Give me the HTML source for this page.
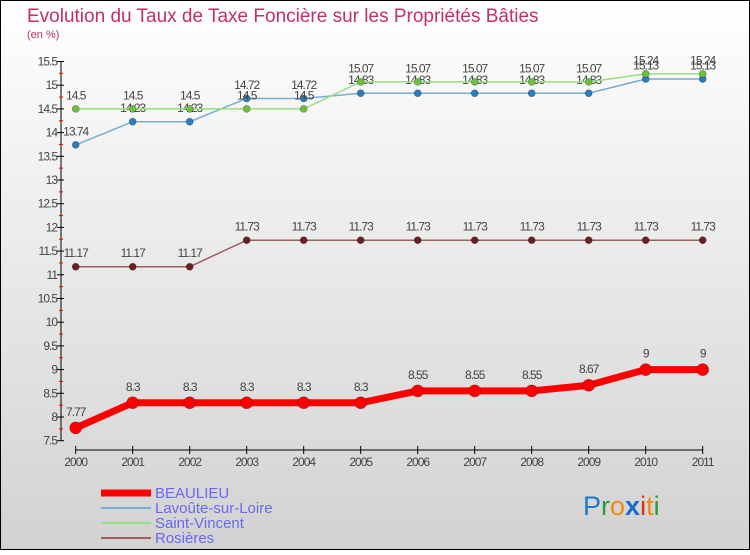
<!DOCTYPE html>
<html><head><meta charset="utf-8"><style>
body{margin:0}
svg text{font-family:"Liberation Sans",sans-serif}
</style></head><body>
<svg width="750" height="550" xmlns="http://www.w3.org/2000/svg">
<defs><linearGradient id="bg" x1="0" y1="0" x2="0" y2="1"><stop offset="0" stop-color="#ffffff"/><stop offset="1" stop-color="#d2d2d2"/></linearGradient></defs>
<rect x="0.5" y="0.5" width="749" height="549" fill="url(#bg)" stroke="#000"/>
<text x="27" y="22" font-size="19" fill="#c0306a">Evolution du Taux de Taxe Foncière sur les Propriétés Bâties</text>
<text x="27" y="38" font-size="11" fill="#c0306a">(en %)</text>
<g id="axes"></g>
<g id="series"></g>
<g id="legend">
<line x1="101" y1="493" x2="151" y2="493" stroke="#f00" stroke-width="7"/>
<text x="155" y="498" font-size="15" fill="#6868f0">BEAULIEU</text>
<line x1="101" y1="508" x2="151" y2="508" stroke="#79aed0" stroke-width="2"/>
<text x="155" y="513" font-size="15" fill="#6868f0">Lavoûte-sur-Loire</text>
<line x1="101" y1="523" x2="151" y2="523" stroke="#98dd80" stroke-width="2"/>
<text x="155" y="528" font-size="15" fill="#6868f0">Saint-Vincent</text>
<line x1="101" y1="538" x2="151" y2="538" stroke="#9a6060" stroke-width="2"/>
<text x="155" y="543" font-size="15" fill="#6868f0">Rosières</text>
</g>
<text x="583" y="515" font-size="27"><tspan fill="#1a7ad0">P</tspan><tspan fill="#2a9a3a">r</tspan><tspan fill="#f08a10">o</tspan><tspan fill="#1a6ad0" font-weight="bold">x</tspan><tspan fill="#e03010">i</tspan><tspan fill="#f08a10">t</tspan><tspan fill="#2a9a3a">i</tspan></text>
</svg>
<script>
const years=[2000,2001,2002,2003,2004,2005,2006,2007,2008,2009,2010,2011];
const yTicks=[7.5,8,8.5,9,9.5,10,10.5,11,11.5,12,12.5,13,13.5,14,14.5,15,15.5];
const beaulieu=[7.77,8.3,8.3,8.3,8.3,8.3,8.55,8.55,8.55,8.67,9,9];
const lavoute=[13.74,14.23,14.23,14.72,14.72,14.83,14.83,14.83,14.83,14.83,15.13,15.13];
const saintVincent=[14.5,14.5,14.5,14.5,14.5,15.07,15.07,15.07,15.07,15.07,15.24,15.24];
const rosieres=[11.17,11.17,11.17,11.73,11.73,11.73,11.73,11.73,11.73,11.73,11.73,11.73];
const NS="http://www.w3.org/2000/svg";
const xs=i=>75.7+i*57;
const ys=v=>440.7-(v-7.5)*47.4;
function mk(t,a,p){const e=document.createElementNS(NS,t);for(const k in a)e.setAttribute(k,a[k]);p.appendChild(e);return e;}
const ax=document.getElementById('axes');
let l=mk('line',{x1:61,y1:ys(15.5),x2:61,y2:ys(7.5),stroke:'#000'},ax);


l=mk('line',{x1:xs(0),y1:450,x2:xs(11),y2:450,stroke:'#000'},ax);


yTicks.forEach((v,i)=>{
 mk('line',{x1:57,y1:ys(v),x2:64,y2:ys(v),stroke:'#000'},ax);
 if(i<yTicks.length-1) mk('line',{x1:59,y1:ys(v+0.25),x2:63,y2:ys(v+0.25),stroke:'#e00'},ax);
 const t=mk('text',{x:57,y:ys(v)+4,'font-size':12,fill:'#444','text-anchor':'end','letter-spacing':'-1'},ax);
 t.textContent=v;
 
 
});
years.forEach((y,i)=>{
 mk('line',{x1:xs(i),y1:446,x2:xs(i),y2:454,stroke:'#000'},ax);
 const t=mk('text',{x:xs(i),y:466,'font-size':12,fill:'#444','text-anchor':'middle','letter-spacing':'-1'},ax);
 t.textContent=y;
 
 
});
const sg=document.getElementById('series');
function series(name,data,color,w,r,dot){
 const g=mk('g',{},sg);
 
 
 const p=mk('polyline',{points:data.map((v,i)=>xs(i)+','+ys(v)).join(' '),fill:'none',stroke:color,'stroke-width':w},g);
 
 
 data.forEach((v,i)=>{
  const c=mk('circle',{cx:xs(i),cy:ys(v),r:r,fill:dot,stroke:'rgba(0,0,0,0.3)','stroke-width':0.8},g);
  
  
  const t=mk('text',{x:xs(i),y:ys(v)-(r+6),'font-size':12,fill:'#444','text-anchor':'middle','letter-spacing':'-1'},g);
  t.textContent=v;
  
  
 });
}
series('rosieres',rosieres,'#9a6060',1.5,3.5,'#6a2020');
series('lavoute',lavoute,'#79aed0',1.5,3.5,'#2a7ec0');
series('saint-vincent',saintVincent,'#98dd80',1.5,3.5,'#70c040');
series('beaulieu',beaulieu,'#f00',7,6,'#f00');
</script>
</body></html>
